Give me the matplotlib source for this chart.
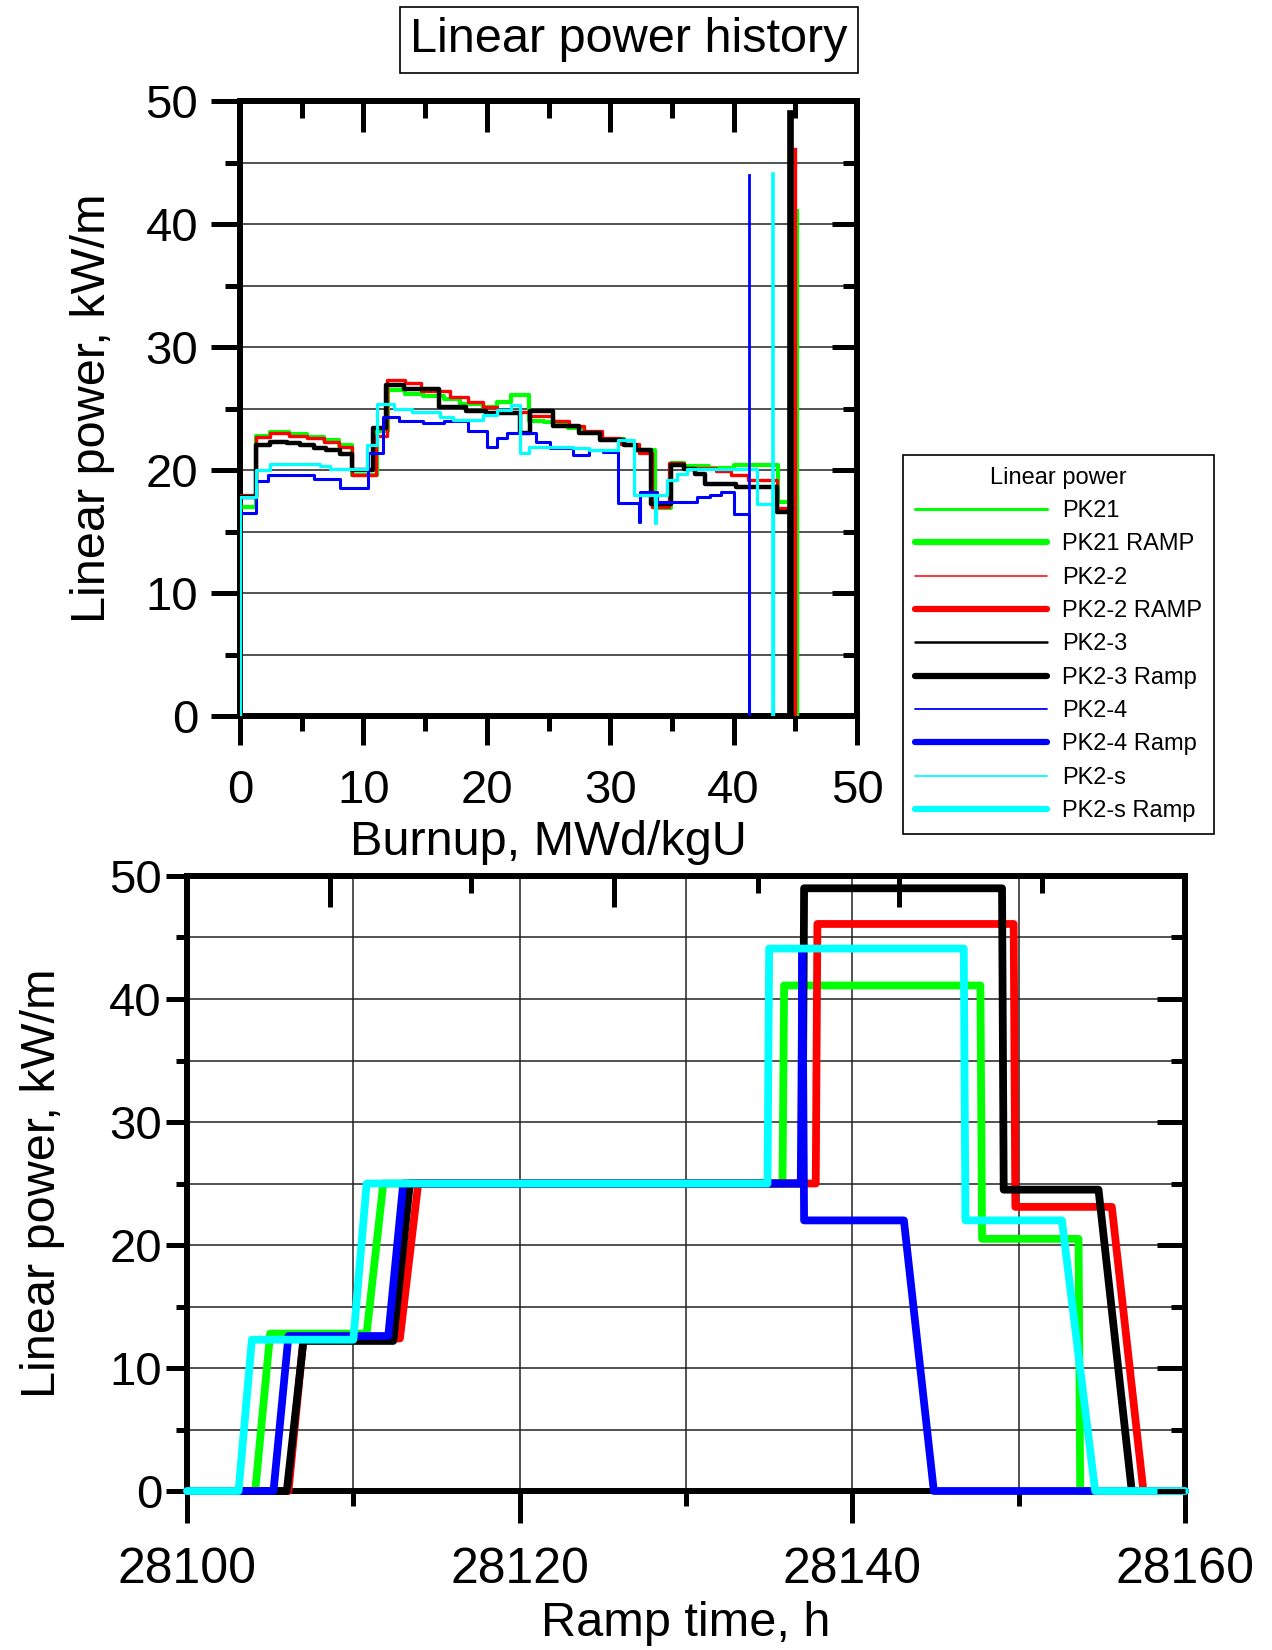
import matplotlib
matplotlib.use('Agg')
import matplotlib.pyplot as plt
from matplotlib.lines import Line2D
from matplotlib.ticker import MultipleLocator, FixedLocator

plt.rcParams['font.family'] = ['Liberation Sans', 'DejaVu Sans']

# ---- burnup history: power[i] holds from burnup[i] to burnup[i+1] (MWd/kgU, kW/m)
pk21_bu = [0, 1.3, 2.4, 4.0, 5.4, 6.8, 8.0, 9.1, 11.1, 12.0, 13.4, 14.8, 16.5, 17.8, 19.7,
           20.8, 22.0, 23.4, 24.6, 26.6, 27.9, 29.3, 31.1, 32.1, 33.6, 34.9, 36.0, 38.0, 40.0,
           43.6, 45.1]
pk21_pw = [17.0, 22.8, 23.1, 22.9, 22.7, 22.4, 22.0, 19.6, 23.2, 26.5, 26.2, 26.0, 25.8, 25.4,
           25.1, 25.5, 26.1, 24.0, 23.9, 23.4, 23.0, 22.5, 22.0, 21.6, 16.9, 20.6, 20.3, 20.2,
           20.4, 17.4]

pk22_bu = [0, 1.3, 2.4, 4.0, 5.4, 6.8, 8.0, 9.1, 11.0, 11.9, 13.4, 14.7, 17.0, 18.5, 19.7,
           20.8, 23.5, 25.4, 26.7, 27.9, 29.3, 30.8, 32.3, 33.4, 34.8, 36.0, 38.6, 39.8, 41.2,
           43.5, 44.97]
pk22_pw = [18.0, 22.7, 23.0, 22.8, 22.6, 22.3, 21.9, 19.6, 22.8, 27.3, 27.1, 26.4, 25.9, 25.5,
           25.1, 24.7, 24.4, 24.0, 23.6, 23.2, 22.6, 22.1, 21.4, 17.0, 20.6, 20.2, 19.9, 19.6,
           19.2, 16.9]

pk23_bu = [0, 1.3, 2.4, 3.8, 4.9, 6.0, 7.0, 8.1, 9.05, 10.8, 11.8, 13.3, 16.1, 18.3, 19.9,
           22.7, 23.5, 25.4, 27.5, 29.2, 31.1, 32.1, 33.3, 34.9, 36.0, 36.9, 37.7, 40.2, 43.5,
           44.6]
pk23_pw = [17.8, 22.0, 22.3, 22.2, 22.0, 21.8, 21.6, 21.3, 20.0, 23.4, 26.9, 26.6, 25.1, 24.8,
           24.6, 23.0, 24.8, 23.6, 23.0, 22.4, 22.0, 21.6, 17.2, 20.4, 20.1, 19.7, 18.9, 18.6,
           16.6]

pk24_bu = [0, 1.3, 2.3, 6.0, 8.1, 10.4, 11.6, 12.9, 14.8, 16.5, 18.5, 20.0, 20.8, 21.6, 24.0,
           25.1, 27.0, 28.3, 29.4, 30.6, 32.35, 32.45, 33.8, 37.0, 38.1, 39.0, 40.0, 41.25]
pk24_pw = [16.5, 19.1, 19.6, 19.3, 18.5, 21.4, 24.3, 24.0, 23.8, 24.0, 23.2, 21.9, 22.6, 23.0,
           22.3, 21.8, 21.2, 21.6, 21.5, 17.3, 15.8, 18.2, 17.4, 17.8, 18.0, 18.2, 16.4]

pk2s_bu = [0, 1.3, 2.4, 6.5, 7.3, 10.3, 11.1, 12.5, 13.9, 16.2, 17.3, 19.7, 20.8, 22.0, 22.7,
           23.4, 27.0, 28.3, 30.6, 31.9, 33.65, 33.75, 34.6, 35.4, 36.2, 41.9, 43.2]
pk2s_pw = [17.8, 20.0, 20.5, 20.3, 20.1, 22.0, 25.4, 25.0, 24.7, 24.3, 24.1, 24.5, 24.9, 25.3,
           21.4, 21.9, 21.8, 21.6, 22.4, 18.0, 15.7, 18.0, 19.2, 19.7, 20.1, 17.2]

# ---- power ramps (ramp time, h ; kW/m)
pk21_rt = [28100, 28104.1, 28105.0, 28110.8, 28111.8, 28135.8, 28135.9, 28147.7, 28147.8,
           28153.6, 28153.7, 28160]
pk21_rp = [0, 0, 12.8, 12.8, 25.0, 25.0, 41.1, 41.1, 20.5, 20.5, 0, 0]

pk22_rt = [28100, 28106.1, 28107.0, 28112.8, 28113.9, 28137.8, 28137.9, 28149.7, 28149.8,
           28155.6, 28157.5, 28160]
pk22_rp = [0, 0, 12.4, 12.4, 25.0, 25.0, 46.1, 46.1, 23.1, 23.1, 0, 0]

pk23_rt = [28100, 28106.0, 28107.0, 28112.4, 28113.4, 28137.0, 28137.1, 28149.0, 28149.1,
           28154.8, 28156.8, 28160]
pk23_rp = [0, 0, 12.2, 12.2, 25.0, 25.0, 49.0, 49.0, 24.5, 24.5, 0, 0]

pk24_rt = [28100, 28105.2, 28106.1, 28112.1, 28113.0, 28136.9, 28137.0, 28137.1, 28143.1,
           28144.9, 28160]
pk24_rp = [0, 0, 12.6, 12.6, 25.0, 25.0, 44.0, 22.0, 22.0, 0, 0]

pk2s_rt = [28100, 28103.1, 28103.9, 28110.0, 28110.8, 28134.9, 28135.0, 28146.7, 28146.8,
           28152.6, 28154.6, 28160]
pk2s_rp = [0, 0, 12.3, 12.3, 25.0, 25.0, 44.1, 44.1, 22.0, 22.0, 0, 0]

names = ['PK21', 'PK2-2', 'PK2-3', 'PK2-4', 'PK2-s']
ramp_names = ['PK21 RAMP', 'PK2-2 RAMP', 'PK2-3 Ramp', 'PK2-4 Ramp', 'PK2-s Ramp']
colors = ['#00ff00', '#ff0000', '#000000', '#0000ff', '#00ffff']
hist = [(pk21_bu, pk21_pw), (pk22_bu, pk22_pw), (pk23_bu, pk23_pw),
        (pk24_bu, pk24_pw), (pk2s_bu, pk2s_pw)]
ramps = [(pk21_rt, pk21_rp), (pk22_rt, pk22_rp), (pk23_rt, pk23_rp),
         (pk24_rt, pk24_rp), (pk2s_rt, pk2s_rp)]

hist_lw = [3.0, 2.4, 3.2, 2.2, 2.3]
endline_lw = [2.4, 2.4, 4.8, 2.0, 2.6]
leg_lw = [2.2, 1.1, 1.8, 1.3, 1.3]
RAMP_LW = 5.6
SPINE_LW = 4.3
TICK_W = 3.6


def step_path(bu, pw):
    x, y = [bu[0]], [0]
    for i, p in enumerate(pw):
        x += [bu[i], bu[i + 1]]
        y += [p, p]
    x.append(bu[-1])
    y.append(0)
    return x, y


def style_frame(ax):
    for s in ax.spines.values():
        s.set_linewidth(SPINE_LW)


def inner_ticks(ax, xmajor, xminor, ymajor, yminor, lens):
    tx = ax.twiny()
    tx.set_xlim(ax.get_xlim())
    tx.xaxis.set_major_locator(xmajor)
    tx.xaxis.set_minor_locator(xminor)
    tx.tick_params(axis='x', which='major', direction='in', length=lens[0], width=TICK_W,
                   labeltop=False)
    tx.tick_params(axis='x', which='minor', direction='in', length=lens[1], width=TICK_W)
    ty = ax.twinx()
    ty.set_ylim(ax.get_ylim())
    ty.yaxis.set_major_locator(ymajor)
    ty.yaxis.set_minor_locator(yminor)
    ty.tick_params(axis='y', which='major', direction='in', length=lens[2], width=TICK_W,
                   labelright=False)
    ty.tick_params(axis='y', which='minor', direction='in', length=lens[3], width=TICK_W)
    for t in (tx, ty):
        for s in t.spines.values():
            s.set_visible(False)


fig = plt.figure(figsize=(12.72, 16.5), dpi=100)
ax1 = fig.add_axes([240 / 1272, 1 - 716 / 1650, 617 / 1272, 615 / 1650])
ax2 = fig.add_axes([187 / 1272, 1 - 1491 / 1650, 998 / 1272, 615 / 1650])

# ---------------- top: burnup history ----------------
for (bu, pw), c, lw in zip(hist, colors, hist_lw):
    x, y = step_path(bu, pw)
    ax1.plot(x, y, color=c, lw=lw, zorder=3)
for (bu, pw), (rt, rp), c, elw in zip(hist, ramps, colors, endline_lw):
    ax1.plot([bu[-1], bu[-1]], [0, max(rp)], color=c, lw=elw, zorder=4)

ax1.set_xlim(0, 50)
ax1.set_ylim(0, 50)
ax1.xaxis.set_major_locator(MultipleLocator(10))
ax1.xaxis.set_minor_locator(MultipleLocator(5))
ax1.yaxis.set_major_locator(MultipleLocator(10))
ax1.yaxis.set_minor_locator(MultipleLocator(5))
ax1.grid(True, axis='y', which='both', color='#222222', lw=1.1)
ax1.tick_params(which='major', direction='out', length=21, width=TICK_W, labelsize=34)
ax1.tick_params(which='minor', direction='out', length=11, width=TICK_W)
ax1.tick_params(axis='x', pad=17)
ax1.tick_params(axis='y', pad=9)
ax1.set_xlabel('Burnup, MWd/kgU', fontsize=35, labelpad=5)
ax1.set_ylabel('Linear power, kW/m', fontsize=35, labelpad=22)
style_frame(ax1)
inner_ticks(ax1, MultipleLocator(10), MultipleLocator(5), MultipleLocator(10),
            MultipleLocator(5), (22, 12, 18, 10))

# ---------------- bottom: power ramps ----------------
for (rt, rp), c in zip(ramps, colors):
    ax2.plot(rt, rp, color=c, lw=RAMP_LW, solid_joinstyle='round', solid_capstyle='round',
             clip_on=False, zorder=4)

ax2.set_xlim(28100, 28160)
ax2.set_ylim(0, 50)
ax2.xaxis.set_major_locator(MultipleLocator(20))
ax2.xaxis.set_minor_locator(MultipleLocator(10))
ax2.yaxis.set_major_locator(MultipleLocator(10))
ax2.yaxis.set_minor_locator(MultipleLocator(5))
ax2.grid(True, which='both', color='#222222', lw=1.1)
ax2.tick_params(which='major', direction='out', length=23, width=TICK_W, labelsize=34)
ax2.tick_params(which='minor', direction='out', length=11, width=TICK_W)
ax2.tick_params(axis='x', labelsize=36, pad=17)
ax2.tick_params(axis='y', length=15, pad=3)
ax2.tick_params(axis='y', which='minor', length=8)
ax2.set_xlabel('Ramp time, h', fontsize=35, labelpad=6)
ax2.set_ylabel('Linear power, kW/m', fontsize=35, labelpad=32)
style_frame(ax2)
inner_ticks(ax2, FixedLocator([28108.6, 28125.7, 28142.8]),
            FixedLocator([28117.1, 28134.3, 28151.4]),
            MultipleLocator(10), MultipleLocator(5), (22, 12, 20, 10))

# ---------------- title box ----------------
fig.text(629 / 1272, 1 - 40 / 1650, 'Linear power history', fontsize=35, ha='center',
         va='center', bbox=dict(boxstyle='square,pad=0.22', fc='white', ec='black', lw=1.2))

# ---------------- legend ----------------
handles, labels = [], []
for n, rn, c, lw in zip(names, ramp_names, colors, leg_lw):
    handles.append(Line2D([], [], color=c, lw=lw, solid_capstyle='round'))
    labels.append(n)
    handles.append(Line2D([], [], color=c, lw=4.5, solid_capstyle='round'))
    labels.append(rn)
leg = fig.legend(handles, labels, loc='upper left',
                 bbox_to_anchor=(903 / 1272, 1 - 455 / 1650), borderaxespad=0,
                 title='Linear power', fontsize=17, title_fontsize=17, handlelength=5.6,
                 handletextpad=0.65, labelspacing=0.48, borderpad=0.5, frameon=True,
                 fancybox=False, edgecolor='black', framealpha=1)
leg.get_frame().set_linewidth(1.2)

fig.savefig('out.png', dpi=100)
